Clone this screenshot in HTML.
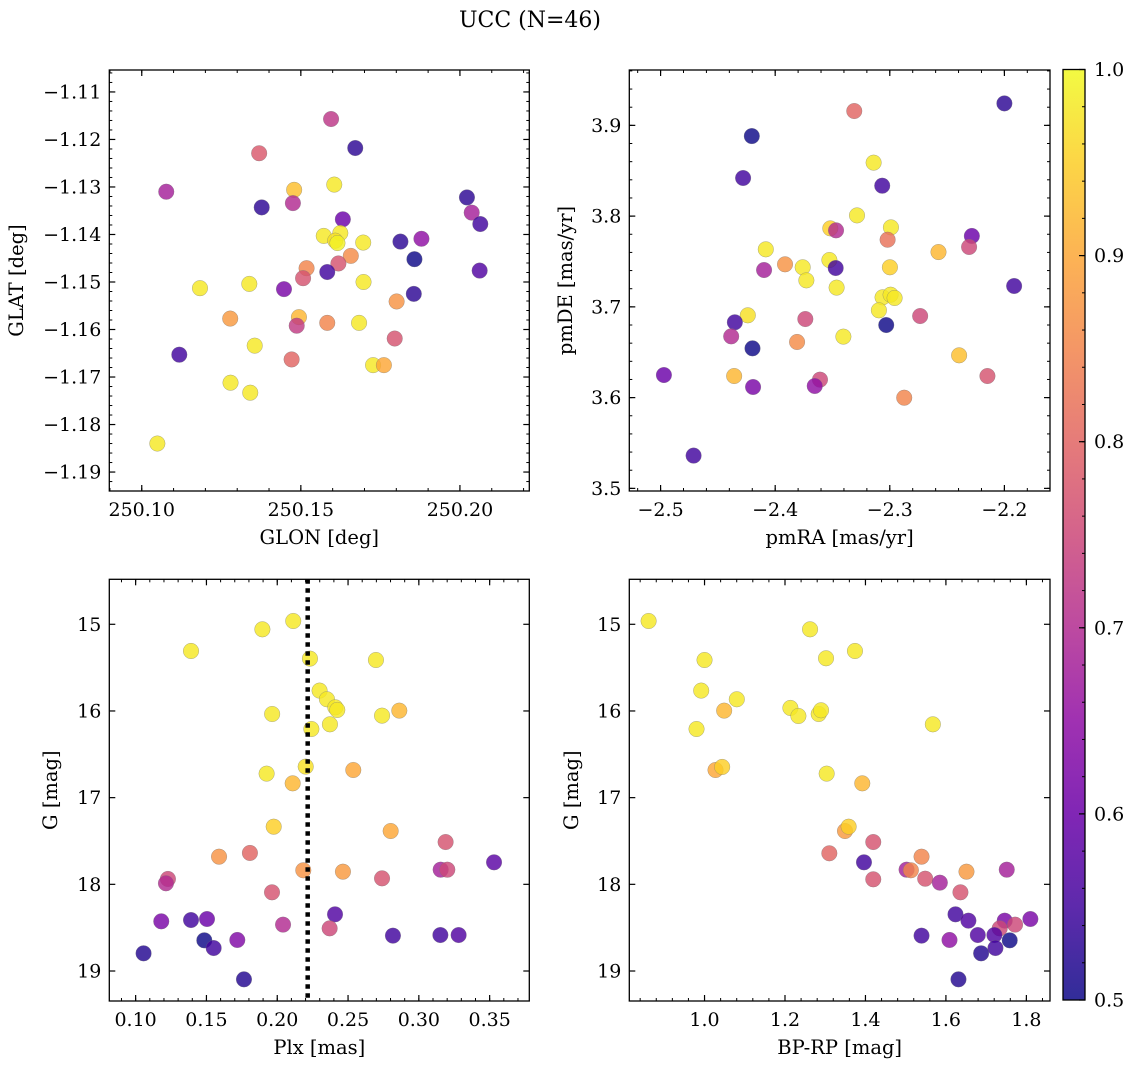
<!DOCTYPE html>
<html><head><meta charset="utf-8"><style>
body{margin:0;background:#fff;}
svg{display:block;font-family:"DejaVu Serif",serif;}
</style></head><body>
<svg id="fig" width="1136" height="1068" viewBox="0 0 1136 1068" xmlns="http://www.w3.org/2000/svg">
<text x="530" y="27" font-size="22" text-anchor="middle">UCC (N=46)</text>
</svg>
<script>
// ---- Panel 1: GLON vs GLAT ----
const glonP1=[250.1077,250.1595,250.1671,250.1369,250.1479,250.1605,250.1377,250.1475,250.2022,250.2037,250.2064,250.1632,250.1572,250.1624,250.1608,250.1615,250.1696,250.1813,250.1879,250.1857,250.1657,250.1618,250.1518,250.1583,250.2062,250.1507,250.1697,250.1338,250.1183,250.1447,250.1855,250.1801,250.1278,250.1494,250.1487,250.1583,250.1683,250.1795,250.1355,250.1118,250.1471,250.1727,250.1761,250.1279,250.1341,250.1049];
const glatP1=[-1.1310,-1.1157,-1.1218,-1.1229,-1.1306,-1.1295,-1.1343,-1.1334,-1.1322,-1.1354,-1.1378,-1.1368,-1.1403,-1.1397,-1.1413,-1.1418,-1.1417,-1.1415,-1.1409,-1.1452,-1.1445,-1.1461,-1.1471,-1.1479,-1.1476,-1.1492,-1.1500,-1.1504,-1.1513,-1.1515,-1.1525,-1.1541,-1.1577,-1.1574,-1.1592,-1.1586,-1.1586,-1.1619,-1.1634,-1.1653,-1.1663,-1.1675,-1.1675,-1.1712,-1.1733,-1.1840];
const probP1=[0.68,0.72,0.53,0.78,0.93,0.98,0.53,0.70,0.53,0.68,0.55,0.60,0.98,0.98,0.97,0.99,0.98,0.53,0.65,0.50,0.86,0.77,0.85,0.55,0.57,0.77,0.98,0.98,0.98,0.62,0.53,0.87,0.88,0.92,0.73,0.85,0.98,0.77,0.98,0.55,0.80,0.98,0.90,0.98,0.98,0.98];
// ---- Panel 2: pmRA vs pmDE ----
const pmraP2=[-2.2000,-2.3310,-2.4204,-2.3141,-2.4280,-2.3066,-2.3286,-2.3519,-2.3469,-2.2990,-2.3019,-2.2284,-2.2308,-2.4082,-2.2575,-2.3914,-2.3760,-2.3527,-2.3472,-2.4097,-2.2999,-2.3728,-2.3464,-2.1915,-2.3063,-2.2993,-2.2958,-2.3095,-2.4239,-2.2735,-2.3737,-2.4352,-2.3031,-2.4384,-2.3405,-2.3809,-2.4198,-2.2395,-2.4971,-2.4358,-2.2148,-2.3609,-2.3655,-2.4193,-2.2874,-2.4712];
const pmdeP2=[3.9242,3.9158,3.8882,3.8589,3.8420,3.8335,3.8008,3.7865,3.7843,3.7876,3.7740,3.7781,3.7660,3.7634,3.7604,3.7469,3.7436,3.7516,3.7428,3.7406,3.7436,3.7292,3.7212,3.7230,3.7105,3.7134,3.7098,3.6962,3.6907,3.6899,3.6866,3.6830,3.6800,3.6675,3.6672,3.6613,3.6543,3.6466,3.6249,3.6238,3.6238,3.6198,3.6128,3.6117,3.5999,3.5361];
const probP2=[0.53,0.80,0.50,0.98,0.55,0.55,0.98,0.95,0.70,0.98,0.82,0.60,0.75,0.98,0.92,0.87,0.98,0.98,0.55,0.68,0.95,0.98,0.98,0.55,0.98,0.98,0.98,0.98,0.97,0.75,0.75,0.55,0.50,0.70,0.98,0.86,0.50,0.93,0.60,0.92,0.77,0.75,0.65,0.62,0.85,0.55];
// ---- Panel 3: Plx vs G ----
const plxP3=[0.2113,0.1895,0.1391,0.2231,0.2697,0.2299,0.2351,0.2410,0.2424,0.1964,0.2740,0.2862,0.2372,0.2241,0.2201,0.1925,0.2537,0.2109,0.1975,0.2801,0.3189,0.1589,0.1807,0.3531,0.2184,0.2464,0.3154,0.3201,0.2740,0.1228,0.1214,0.1963,0.2408,0.1181,0.1391,0.1504,0.2041,0.2370,0.2817,0.3152,0.3281,0.1485,0.1718,0.1551,0.1056,0.1765];
const gP3=[14.962,15.058,15.308,15.396,15.412,15.765,15.865,15.958,15.988,16.035,16.054,15.996,16.154,16.208,16.642,16.723,16.681,16.835,17.335,17.385,17.512,17.681,17.638,17.746,17.838,17.854,17.831,17.831,17.931,17.938,17.988,18.092,18.346,18.427,18.412,18.400,18.465,18.508,18.592,18.585,18.585,18.646,18.642,18.735,18.796,19.096];
const probP3=[0.98,0.98,0.98,0.98,0.98,0.98,0.98,0.98,0.98,0.98,0.98,0.92,0.98,0.98,0.97,0.98,0.90,0.92,0.95,0.90,0.77,0.87,0.80,0.58,0.87,0.88,0.68,0.75,0.77,0.75,0.70,0.77,0.57,0.62,0.55,0.60,0.70,0.75,0.55,0.55,0.57,0.50,0.63,0.55,0.52,0.52];
const plxMedian=[0.2215];
// ---- Panel 4: BP-RP vs G ----
const bprpP4=[0.8610,1.2623,1.3739,1.3020,1.0000,0.9917,1.0802,1.0488,1.2134,1.2333,1.2838,1.2896,1.5675,0.9801,1.0273,1.0438,1.3036,1.3921,1.3491,1.3582,1.4194,1.3102,1.3963,1.5022,1.5129,1.5394,1.4194,1.5485,1.5849,1.6511,1.7512,1.6361,1.6238,1.6559,1.7461,1.7337,1.7719,1.8099,1.5394,1.6089,1.6792,1.7205,1.7586,1.7231,1.6875,1.6312];
const gP4=[14.962,15.058,15.308,15.392,15.412,15.765,15.865,15.996,15.965,16.058,16.035,15.992,16.154,16.208,16.681,16.646,16.723,16.835,17.385,17.335,17.512,17.642,17.746,17.831,17.838,17.681,17.942,17.935,17.981,17.854,17.831,18.092,18.346,18.419,18.419,18.508,18.465,18.400,18.592,18.642,18.585,18.585,18.646,18.735,18.796,19.096];
const probP4=[0.98,0.98,0.98,0.98,0.98,0.98,0.98,0.92,0.98,0.98,0.98,0.98,0.98,0.98,0.90,0.95,0.98,0.92,0.88,0.95,0.77,0.80,0.55,0.68,0.85,0.85,0.77,0.77,0.68,0.88,0.68,0.77,0.55,0.57,0.62,0.75,0.75,0.62,0.55,0.65,0.57,0.57,0.50,0.55,0.52,0.52];
// ---- tick labels ----
const ticksP1x=[250.10,250.15,250.20], ticksP1xLbl=["250.10","250.15","250.20"];
const ticksP1y=[-1.11,-1.12,-1.13,-1.14,-1.15,-1.16,-1.17,-1.18,-1.19];
const ticksP2x=[-2.5,-2.4,-2.3,-2.2], ticksP2y=[3.5,3.6,3.7,3.8,3.9];
const ticksP3x=[0.10,0.15,0.20,0.25,0.30,0.35], ticksGy=[15,16,17,18,19];
const ticksP4x=[1.0,1.2,1.4,1.6,1.8];
const ticksCbar=[0.5,0.6,0.7,0.8,0.9,1.0];

const NS="http://www.w3.org/2000/svg";
const svg=document.getElementById('fig');
function mk(tag,attrs,parent){const e=document.createElementNS(NS,tag);for(const k in attrs)e.setAttribute(k,attrs[k]);(parent||svg).appendChild(e);return e;}
const plasma=[[13,8,135],[65,4,157],[106,0,168],[143,13,164],[177,42,144],[204,71,120],[225,100,98],[242,132,75],[252,166,54],[252,206,37],[240,249,33]];
function cmap(v){let t=(v-0.5)/0.5;t=Math.max(0,Math.min(1,t));const f=t*10,i=Math.min(9,Math.floor(f)),r=f-i;const a=plasma[i],b=plasma[i+1];return `rgb(${Math.round(a[0]+(b[0]-a[0])*r)},${Math.round(a[1]+(b[1]-a[1])*r)},${Math.round(a[2]+(b[2]-a[2])*r)})`;}
function fmt(v,d){const s=Math.abs(v).toFixed(d);return (v<0?"\u2212":"")+s;}

function panel(o){
  const g=mk('g',{});
  
  
  const sx=v=>o.L+(v-o.x0)/(o.x1-o.x0)*(o.R-o.L);
  const sy=v=>o.B-(v-o.y0)/(o.y1-o.y0)*(o.B-o.T);
  for(let i=0;i<o.xs.length;i++){
    const c=mk('circle',{cx:sx(o.xs[i]),cy:sy(o.ys[i]),r:7.8,fill:cmap(o.cs[i]),'fill-opacity':0.82,stroke:'#777','stroke-width':0.5,'stroke-opacity':0.6},g);
    
    
  }
  if(o.vline){const vl=mk('line',{x1:sx(o.vline),x2:sx(o.vline),y1:o.T,y2:o.B,stroke:'#000','stroke-width':4.5,'stroke-dasharray':'4.5 4.5'},g);
    }
  const minorX=[],minorY=[];
  for(let v=Math.ceil(o.x0/o.mx-1e-6)*o.mx;v<=o.x1;v+=o.mx)minorX.push(v);
  for(let v=Math.ceil(o.y0/o.my-1e-6)*o.my;v<=o.y1;v+=o.my)minorY.push(v);
  minorX.forEach(v=>{const x=sx(v);mk('line',{x1:x,x2:x,y1:o.B,y2:o.B-3,stroke:'#000','stroke-width':1},g);mk('line',{x1:x,x2:x,y1:o.T,y2:o.T+3,stroke:'#000','stroke-width':1},g);});
  minorY.forEach(v=>{const y=sy(v);mk('line',{x1:o.L,x2:o.L+3,y1:y,y2:y,stroke:'#000','stroke-width':1},g);mk('line',{x1:o.R,x2:o.R-3,y1:y,y2:y,stroke:'#000','stroke-width':1},g);});
  o.tx.forEach((v,i)=>{const x=sx(v);mk('line',{x1:x,x2:x,y1:o.B,y2:o.B-6,stroke:'#000','stroke-width':1.2},g);mk('line',{x1:x,x2:x,y1:o.T,y2:o.T+6,stroke:'#000','stroke-width':1.2},g);
    const t=mk('text',{x:x,y:o.B+25,'font-size':19,'text-anchor':'middle'},g);t.textContent=o.txl?o.txl[i]:fmt(v,o.xd);
    });
  o.ty.forEach(v=>{const y=sy(v);mk('line',{x1:o.L,x2:o.L+6,y1:y,y2:y,stroke:'#000','stroke-width':1.2},g);mk('line',{x1:o.R,x2:o.R-6,y1:y,y2:y,stroke:'#000','stroke-width':1.2},g);
    const t=mk('text',{x:o.L-8,y:y+6.5,'font-size':19,'text-anchor':'end'},g);t.textContent=fmt(v,o.yd);
    });
  const fr=mk('rect',{x:o.L,y:o.T,width:o.R-o.L,height:o.B-o.T,fill:'none',stroke:'#000','stroke-width':1.3},g);
  
  const xl=mk('text',{x:(o.L+o.R)/2,y:o.B+53,'font-size':19.5,'text-anchor':'middle'},g);xl.textContent=o.xlab;
  
  const yl=mk('text',{x:0,y:0,'font-size':19.5,'text-anchor':'middle',transform:`translate(${o.ylx},${(o.T+o.B)/2}) rotate(-90)`},g);yl.textContent=o.ylab;
  
}
panel({name:'glon-glat-panel',L:109.3,R:529.3,T:70,B:491,x0:250.0898,x1:250.2218,y0:-1.19399,y1:-1.10538,xs:glonP1,ys:glatP1,cs:probP1,tx:ticksP1x,txl:ticksP1xLbl,ty:ticksP1y,xd:2,yd:2,mx:0.01,my:0.002,xlab:'GLON [deg]',ylab:'GLAT [deg]',ylx:23});
panel({name:'pm-panel',L:629.3,R:1050,T:70,B:491,x0:-2.5273,x1:-2.1602,y0:3.4971,y1:3.961,xs:pmraP2,ys:pmdeP2,cs:probP2,tx:ticksP2x,ty:ticksP2y,xd:1,yd:1,mx:0.02,my:0.02,xlab:'pmRA [mas/yr]',ylab:'pmDE [mas/yr]',ylx:572});
panel({name:'plx-g-panel',L:109.3,R:529.3,T:579.3,B:1001,x0:0.0814,x1:0.3780,y0:19.346,y1:14.481,xs:plxP3,ys:gP3,cs:probP3,tx:ticksP3x,ty:ticksGy,xd:2,yd:0,mx:0.01,my:0.2,xlab:'Plx [mas]',ylab:'G [mag]',ylx:57,vline:plxMedian[0]});
panel({name:'cmd-panel',L:629.3,R:1050,T:579.3,B:1001,x0:0.813,x1:1.8587,y0:19.346,y1:14.481,xs:bprpP4,ys:gP4,cs:probP4,tx:ticksP4x,ty:ticksGy,xd:1,yd:0,mx:0.04,my:0.2,xlab:'BP-RP [mag]',ylab:'G [mag]',ylx:578});

// colorbar
const cb=mk('g',{});


const defs=mk('defs',{},cb);
const lg=mk('linearGradient',{id:'plg',x1:0,y1:1,x2:0,y2:0},defs);
plasma.forEach((c,i)=>mk('stop',{offset:(i/10),'stop-color':`rgb(${c})`,'stop-opacity':0.85},lg));
const cT=69.5,cB=1000,cL=1063,cR=1085;
mk('rect',{x:cL,y:cT,width:cR-cL,height:cB-cT,fill:'url(#plg)',stroke:'#000','stroke-width':1.3},cb);
const cy=v=>cB-(v-0.5)/0.5*(cB-cT);
for(let v=0.5;v<=1.0001;v+=0.02){mk('line',{x1:cR,x2:cR-3,y1:cy(v),y2:cy(v),stroke:'#000','stroke-width':1},cb);}
ticksCbar.forEach(v=>{mk('line',{x1:cR,x2:cR-6,y1:cy(v),y2:cy(v),stroke:'#000','stroke-width':1.2},cb);
  const t=mk('text',{x:cR+9,y:cy(v)+6.5,'font-size':19},cb);t.textContent=v.toFixed(1);
  });
</script>
</body></html>
